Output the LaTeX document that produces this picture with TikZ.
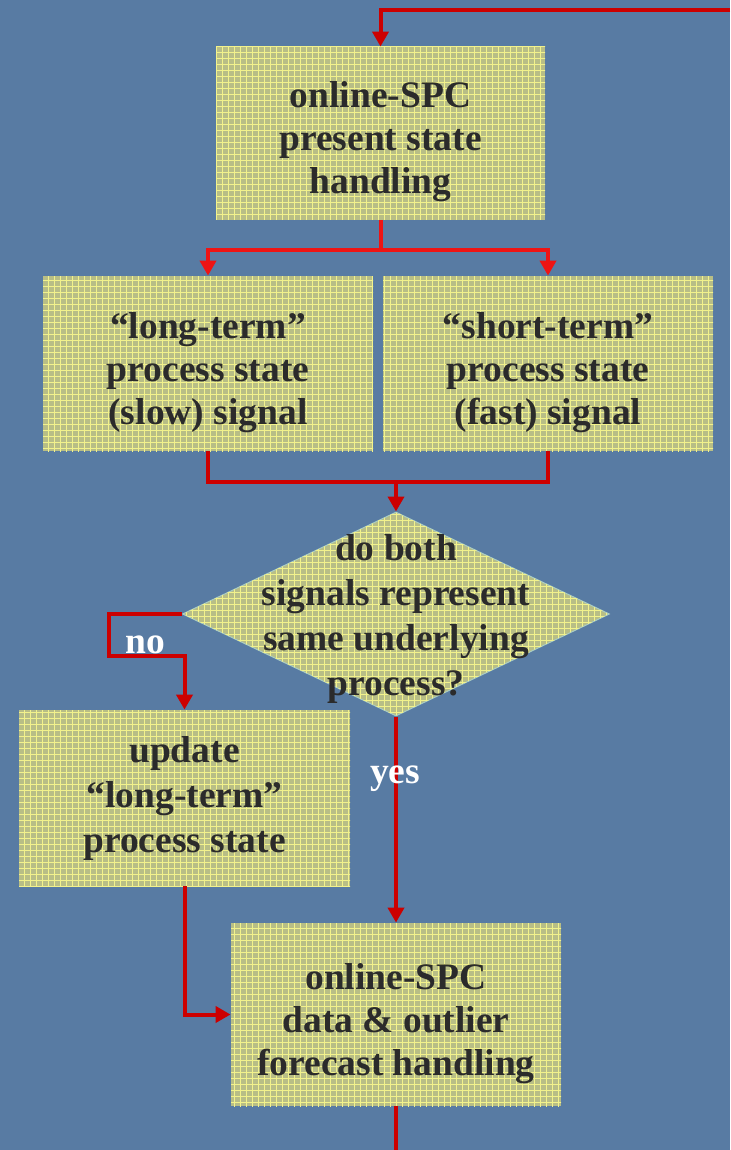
\documentclass[tikz,border=0pt]{standalone}
\usepackage{fontspec}
\setmainfont{Liberation Serif}
\usetikzlibrary{shapes.geometric,arrows.meta,patterns}
\definecolor{slide}{RGB}{88,123,163}
\definecolor{boxfill}{RGB}{184,190,134}
\definecolor{boxgrid}{RGB}{242,242,140}
\definecolor{boxtext}{RGB}{43,43,43}
\definecolor{diaedge}{RGB}{170,205,195}
\definecolor{flow}{RGB}{204,0,0}
\definecolor{flowlight}{RGB}{238,20,20}
\newcommand{\boxfont}{\fontsize{18.75}{21.5}\selectfont\bfseries}
% extra height on the first line pushes the lines down
\newcommand{\lift}[1]{\rule{0pt}{#1}}
\tikzset{
  stepbox/.style={rectangle, fill=boxfill, postaction={pattern=grid, pattern color=boxgrid},
    inner sep=0pt, align=center, text=boxtext, font=\boxfont},
  flowline/.style={draw=flow, line width=2pt},
  arr/.style={flowline, -{Triangle[width=8pt,length=7.5pt]}},
  answer/.style={text=white, font=\boxfont}
}
\begin{document}
\begin{tikzpicture}[x=0.5pt, y=-0.5pt]
  \fill[slide] (0,0) rectangle (730,1150);
  \useasboundingbox (0,0) rectangle (730,1150);

  % boxes
  \node[stepbox, minimum width=164.5pt, minimum height=86.5pt] (present) at (380.5,133.5)
    {\lift{20.8pt}online-SPC\\present state\\handling};
  \node[stepbox, minimum width=165pt, minimum height=87.5pt] (slow) at (208,363.5)
    {\lift{21.8pt}“long-term”\\process state\\(slow) signal};
  \node[stepbox, minimum width=165pt, minimum height=87.5pt] (fast) at (548,363.5)
    {\lift{21.8pt}“short-term”\\process state\\(fast) signal};
  \node[diamond, fill=boxfill, postaction={pattern=grid, pattern color=boxgrid},
    draw=diaedge, line width=0.5pt, inner sep=0pt,
    minimum width=213.5pt, minimum height=102pt] (same) at (396,614) {};
  \node[align=center, text=boxtext, font=\fontsize{18.75}{22.5}\selectfont\bfseries,
    inner sep=0pt, yshift=-2.5pt] (sametext) at (same.center)
    {do both\\signals represent\\same underlying\\process?};
  \node[stepbox, font=\fontsize{18.75}{22.5}\selectfont\bfseries,
    minimum width=165.5pt, minimum height=88pt] (update) at (184.5,798)
    {\lift{13.8pt}update\\“long-term”\\process state};
  \node[stepbox, minimum width=165pt, minimum height=91.5pt] (forecast) at (396,1014.5)
    {\lift{21.8pt}online-SPC\\data \& outlier\\forecast handling};

  % connectors
  \coordinate (loopin) at (730,10);
  \coordinate (split) at (380.5,250);
  \coordinate (join) at (396,482);
  \coordinate (nobend) at (109,656);
  \coordinate (loopout) at (396,1150);

  \draw[arr] (loopin) -| (present.north);
  \draw[flowline, draw=flowlight] (present.south) -- (split);
  \draw[arr, draw=flowlight] (split) -| (slow.north);
  \draw[arr, draw=flowlight] (split) -| (fast.north);
  \draw[flowline] (slow.south) |- (join) -| (fast.south);
  \draw[arr] (join) -- (same.north);
  \draw[arr] (same.west) -| (nobend) -| (update.north);
  \draw[arr] (same.south) -- (forecast.north);
  \draw[arr] (update.south) |- (forecast.west);
  \draw[flowline] (forecast.south) -- (loopout);

  % answers
  \node[answer] (no) at (145,645) {no};
  \node[answer] (yes) at (395,779) {yes};
\end{tikzpicture}
\end{document}
